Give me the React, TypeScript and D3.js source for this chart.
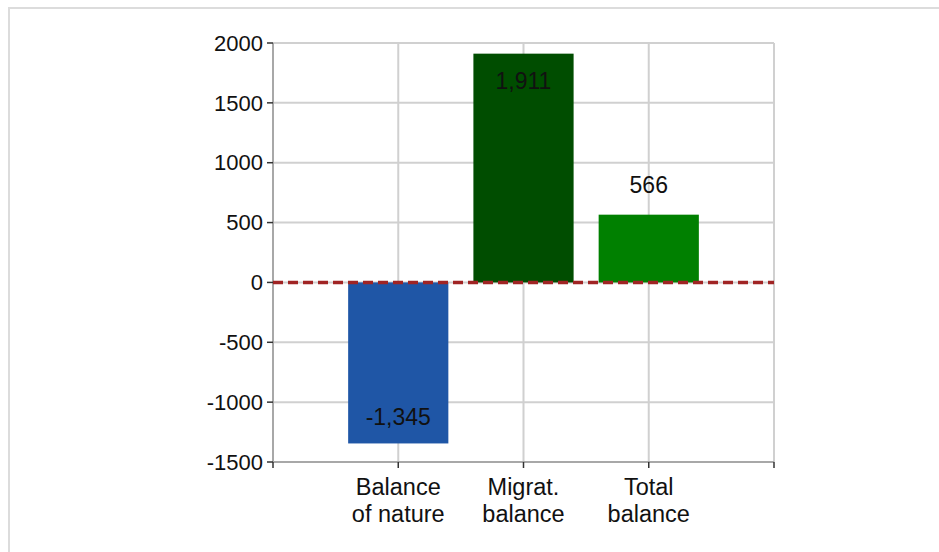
import React from "react";
import * as d3 from "d3";

const categories = ["Balance\nof nature", "Migrat.\nbalance", "Total\nbalance"];
const values = [-1345, 1911, 566];
const labels = ["-1,345", "1,911", "566"];
const colors = ["#1f56a6", "#004d00", "#008000"];
const yTicks = [-1500, -1000, -500, 0, 500, 1000, 1500, 2000];

export default function App() {
  const W = 939, H = 552;
  const x = d3.scaleLinear().domain([0, 4]).range([273, 774]);
  const y = d3.scaleLinear().domain([-1500, 2000]).range([462, 43]);
  const bw = x(0.8) - x(0);
  const font = "Liberation Sans, Arial, sans-serif";
  return (
    <svg width={W} height={H} style={{ position: "absolute", left: 0, top: 0 }}>
      <rect x={0} y={0} width={W} height={H} fill="#fff" />
      <rect x={9} y={8} width={W} height={H} fill="none" stroke="#dcdcdc" strokeWidth={2} />
      {yTicks.map((t) => (
        <line key={"gy" + t} x1={x(0)} x2={x(4)} y1={y(t)} y2={y(t)} stroke="#d0d0d0" strokeWidth={2} />
      ))}
      {[1, 2, 3, 4].map((i) => (
        <line key={"gx" + i} x1={x(i)} x2={x(i)} y1={y(2000)} y2={y(-1500)} stroke="#d0d0d0" strokeWidth={2} />
      ))}
      <line x1={x(0)} x2={x(0)} y1={y(2000)} y2={y(-1500)} stroke="#a8a8a8" strokeWidth={2} />
      <line x1={x(0)} x2={x(4)} y1={y(-1500)} y2={y(-1500)} stroke="#a8a8a8" strokeWidth={2} />
      {yTicks.map((t) => (
        <g key={"ty" + t}>
          <line x1={x(0) - 6} x2={x(0)} y1={y(t)} y2={y(t)} stroke="#333" strokeWidth={1.5} />
          <text x={x(0) - 10} y={y(t)} dy="0.35em" textAnchor="end" fontFamily={font} fontSize={22} fill="#111">
            {t}
          </text>
        </g>
      ))}
      {[0, 1, 2, 3, 4].map((i) => (
        <line key={"tx" + i} x1={x(i)} x2={x(i)} y1={y(-1500)} y2={y(-1500) + 6} stroke="#333" strokeWidth={1.5} />
      ))}
      {values.map((v, i) => (
        <rect
          key={"b" + i}
          x={x(i + 1) - bw / 2}
          width={bw}
          y={Math.min(y(v), y(0))}
          height={Math.abs(y(v) - y(0))}
          fill={colors[i]}
        />
      ))}
      <line x1={x(0)} x2={x(4)} y1={y(0)} y2={y(0)} stroke="#a02424" strokeWidth={3.5} strokeDasharray="10,5" />
      {values.map((v, i) => {
        const inside = Math.abs(v) > 1000;
        const ly = inside ? (v > 0 ? y(v) + 27 : y(v) - 26) : y(v) - 30;
        return (
          <text key={"l" + i} x={x(i + 1)} y={ly} dy="0.35em" textAnchor="middle" fontFamily={font} fontSize={23} fill="#111">
            {labels[i]}
          </text>
        );
      })}
      {categories.map((c, i) => (
        <text key={"c" + i} x={x(i + 1)} y={495} textAnchor="middle" fontFamily={font} fontSize={23.5} fill="#111">
          {c.split("\n").map((line, j) => (
            <tspan key={j} x={x(i + 1)} dy={j === 0 ? 0 : 27}>
              {line}
            </tspan>
          ))}
        </text>
      ))}
    </svg>
  );
}
